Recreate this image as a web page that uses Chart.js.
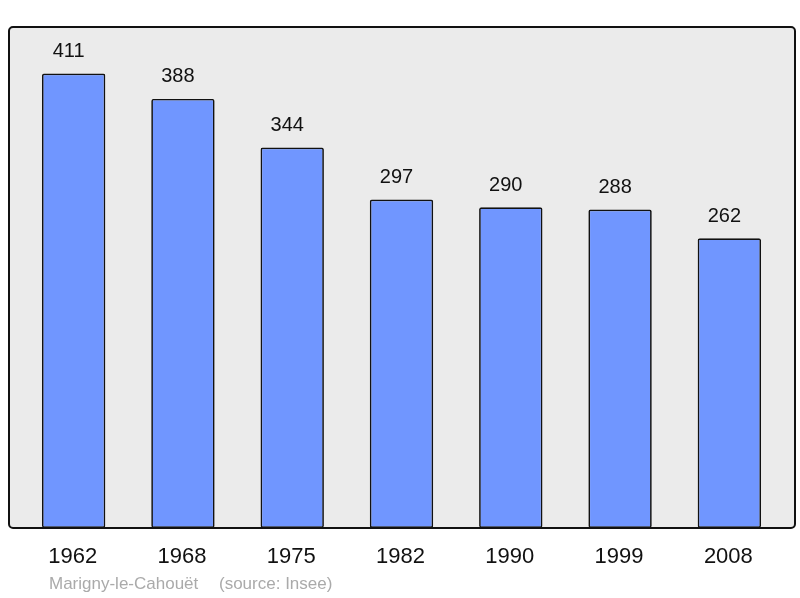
<!DOCTYPE html>
<html>
<head>
<meta charset="utf-8">
<script src="https://cdn.jsdelivr.net/npm/chart.js@4/dist/chart.umd.min.js"></script>
<style>
  html, body { margin: 0; padding: 0; background: #fff; }
  #wrap { width: 800px; height: 598px; }
</style>
</head>
<body>
<div id="wrap"><canvas id="chartPop"></canvas></div>
<script>
// Données
const years = ['1962', '1968', '1975', '1982', '1990', '1999', '2008'];
const population = [411, 388, 344, 297, 290, 288, 262];
const townName = 'Marigny-le-Cahouët';
const sourceText = '(source: Insee)';

// Cadre gris + étiquettes dessinés à la main
const framePlugin = {
    id: 'framePlugin',
    beforeDatasetsDraw(chart) {
        const ctx = chart.ctx;
        const a = chart.chartArea;
        ctx.save();
        ctx.beginPath();
        ctx.roundRect(a.left - 10, a.top, a.right - a.left + 21, a.bottom - a.top, 4);
        ctx.fillStyle = '#ebebeb';
        ctx.fill();
        ctx.restore();
    },
    afterDatasetsDraw(chart) {
        const ctx = chart.ctx;
        const a = chart.chartArea;
        const meta = chart.getDatasetMeta(0);
        ctx.save();
        ctx.beginPath();
        ctx.roundRect(a.left - 10, a.top, a.right - a.left + 21, a.bottom - a.top, 4);
        ctx.lineWidth = 2;
        ctx.strokeStyle = '#111';
        ctx.stroke();

        ctx.fillStyle = '#111';
        ctx.textAlign = 'center';
        ctx.textBaseline = 'middle';
        meta.data.forEach((bar, i) => {
            ctx.font = '20px "Liberation Sans", Arial, sans-serif';
            ctx.fillText(String(population[i]), bar.x - 5, bar.y - 22);
            ctx.font = '22px "Liberation Sans", Arial, sans-serif';
            ctx.fillText(years[i], bar.x - 1, a.bottom + 29);
        });

        ctx.fillStyle = '#aaaaaa';
        ctx.textAlign = 'left';
        ctx.font = '17px "Liberation Sans", Arial, sans-serif';
        ctx.fillText(townName, 49, 584);
        ctx.fillText(sourceText, 219, 584);
        ctx.restore();
    }
};

new Chart(document.getElementById('chartPop').getContext('2d'), {
    type: 'bar',
    data: {
        labels: years,
        datasets: [{
            data: population,
            backgroundColor: '#7096ff',
            borderColor: '#111',
            borderWidth: 1.7,
            borderRadius: 2,
            borderSkipped: false,
            categoryPercentage: 0.58,
            barPercentage: 1
        }]
    },
    options: {
        responsive: true,
        maintainAspectRatio: false,
        animation: false,
        layout: { padding: { left: 19, right: 16, top: 27, bottom: 70 } },
        plugins: {
            legend: { display: false },
            tooltip: { enabled: false }
        },
        scales: {
            x: { display: false, grid: { display: false } },
            y: { display: false, min: 0, max: 453, grid: { display: false } }
        }
    },
    plugins: [framePlugin]
});
</script>
</body>
</html>
